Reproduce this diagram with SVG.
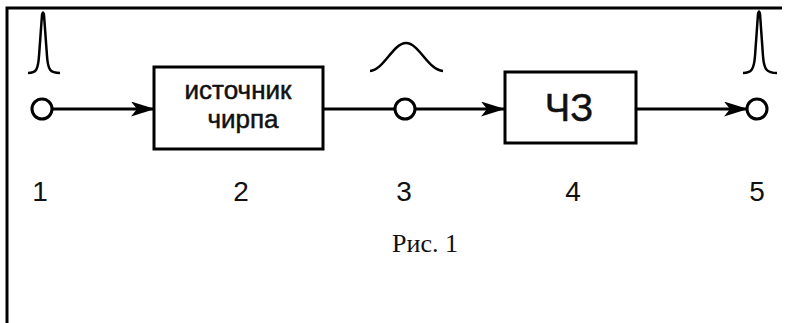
<svg xmlns="http://www.w3.org/2000/svg" width="794" height="323" viewBox="0 0 794 323">
  <style>
    .frame { fill: none; stroke: #000; stroke-width: 3; }
    .wire { fill: none; stroke: #000; stroke-width: 3; }
    .box { fill: #fff; stroke: #000; stroke-width: 3; }
    .port { fill: #fff; stroke: #000; stroke-width: 3; }
    .pulse { fill: none; stroke: #000; stroke-width: 2.5; stroke-linejoin: round; }
    .lbl { font-family: "Liberation Sans", Arial, sans-serif; fill: #111; stroke: #111; stroke-width: 0.5; text-anchor: middle; }
    .num { font-family: "Liberation Sans", Arial, sans-serif; font-size: 28px; fill: #111; text-anchor: middle; }
    .cap { font-family: "Liberation Serif", "Times New Roman", serif; font-size: 26px; fill: #111; text-anchor: middle; }
  </style>
  <defs>
    <marker id="arrow" viewBox="0 0 24 15" refX="23" refY="7.5" markerWidth="24" markerHeight="15" markerUnits="userSpaceOnUse" orient="auto">
      <path d="M0,0 L24,7.5 L0,15 L6,7.5 Z" fill="#000"/>
    </marker>
  </defs>

  <rect width="794" height="323" fill="#fff"/>

  <!-- page frame -->
  <path class="frame" d="M7,323 L7,8 L782,8"/>

  <!-- connectors -->
  <g id="connectors">
    <line class="wire" x1="52" y1="109" x2="154" y2="109" marker-end="url(#arrow)"/>
    <line class="wire" x1="323" y1="109" x2="395" y2="109"/>
    <line class="wire" x1="415" y1="109" x2="504" y2="109" marker-end="url(#arrow)"/>
    <line class="wire" x1="636" y1="109" x2="747" y2="109" marker-end="url(#arrow)"/>
  </g>

  <!-- point 1: input pulse -->
  <g id="p1">
    <path class="pulse" d="M28,73 C36,73 38,70 39,56 L42,15 Q43,10 44,15 L47,56 C48,70 50,73 60,73"/>
    <circle class="port" cx="42" cy="109" r="10"/>
    <text class="num" x="40" y="201">1</text>
  </g>

  <!-- block 2: chirp source -->
  <g id="b2">
    <rect class="box" x="154" y="67" width="169" height="82"/>
    <text class="lbl" x="238" y="99" font-size="26">источник</text>
    <text class="lbl" x="243" y="128" font-size="26">чирпа</text>
    <text class="num" x="241" y="201">2</text>
  </g>

  <!-- point 3: stretched pulse -->
  <g id="p3">
    <path class="pulse" d="M370,71 C384,70 393,43 406,43 C419,43 428,70 443,71"/>
    <circle class="port" cx="405" cy="109" r="10"/>
    <text class="num" x="404" y="201">3</text>
  </g>

  <!-- block 4: dispersive delay -->
  <g id="b4">
    <rect class="box" x="505" y="72" width="131" height="71"/>
    <text class="lbl" x="569" y="121" font-size="38">ЧЗ</text>
    <text class="num" x="573" y="201">4</text>
  </g>

  <!-- point 5: compressed pulse -->
  <g id="p5">
    <path class="pulse" d="M743,73 C751,73 754,70 755,56 L758,14 Q759,9 760,14 L763,56 C764,70 767,73 777,73"/>
    <circle class="port" cx="757" cy="109" r="10"/>
    <text class="num" x="757" y="201">5</text>
  </g>

  <!-- caption -->
  <text class="cap" x="425" y="252">Рис. 1</text>
</svg>
